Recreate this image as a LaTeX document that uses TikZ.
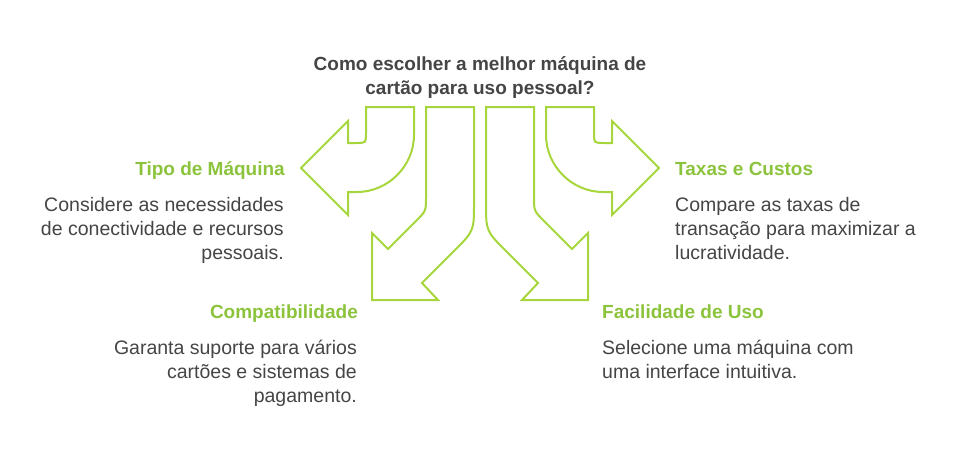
\documentclass[tikz,border=0pt]{standalone}
\usepackage{fontspec}
\setmainfont{Liberation Sans}
\usepackage{tikz}
\usetikzlibrary{positioning}
\definecolor{arrowgreen}{HTML}{A6D63C}
\definecolor{headgreen}{HTML}{8CC33C}
\definecolor{bodygray}{HTML}{454545}

\begin{document}
\begin{tikzpicture}[x=1pt,y=-1pt,
		arrowline/.style={draw=arrowgreen,line width=2pt,line join=miter},
		headtext/.style={font=\fontsize{19}{24}\selectfont\bfseries,text=headgreen,inner sep=0pt},
		bodytext/.style={font=\fontsize{19.5}{24}\selectfont,text=bodygray,inner sep=0pt}]
		
		\useasboundingbox (0,0) rectangle (960,456);
		
		% Title (base = last line)
		\node[font=\fontsize{19}{24}\selectfont\bfseries,text=bodygray,align=center,inner sep=0pt,anchor=base] (title) at (480,94) {Como escolher a melhor máquina de\\cartão para uso pessoal?};
		
		% Arrows: left half, then its mirror image
		\foreach \s in {1,-1}{
			\begin{scope}[shift={(480,0)},xscale=\s]
				% side arrow
				\draw[arrowline] (-66,107) -- (-114,107) -- (-114,133) .. controls (-114,143) .. (-124,143) -- (-132,143) -- (-132,121) -- (-179,168) -- (-132,215) -- (-132,192) -- (-123,192) .. controls (-92,192) and (-66,166) .. (-66,135) -- cycle;
				% down arrow
				\draw[arrowline] (-54,107) -- (-54,197) .. controls (-54,211) .. (-64,221) -- (-92,249) -- (-108,233) -- (-108,300) -- (-42,300) -- (-58,283) -- (-26,251) .. controls (-6,231) .. (-6,203) -- (-6,107) -- cycle;
			\end{scope}
		}
		
		% Left texts
		\node[headtext,anchor=base east] (tipo) at (285,175) {Tipo de Máquina};
		\node[bodytext,align=right,anchor=base east] (tipotxt) at (284,259) {Considere as necessidades\\de conectividade e recursos\\pessoais.};
		\node[headtext,anchor=base east] (compat) at (358,318.5) {Compatibilidade};
		\node[bodytext,align=right,anchor=base east] (compattxt) at (357,402.5) {Garanta suporte para vários\\cartões e sistemas de\\pagamento.};
		
		% Right texts
		\node[headtext,anchor=base west] (taxas) at (675,175) {Taxas e Custos};
		\node[bodytext,align=left,anchor=base west] (taxastxt) at (675,259) {Compare as taxas de\\transação para maximizar a\\lucratividade.};
		\node[headtext,anchor=base west] (facil) at (602,318.5) {Facilidade de Uso};
		\node[bodytext,align=left,anchor=base west] (faciltxt) at (602,378.5) {Selecione uma máquina com\\uma interface intuitiva.};
		
	\end{tikzpicture}
\end{document}
